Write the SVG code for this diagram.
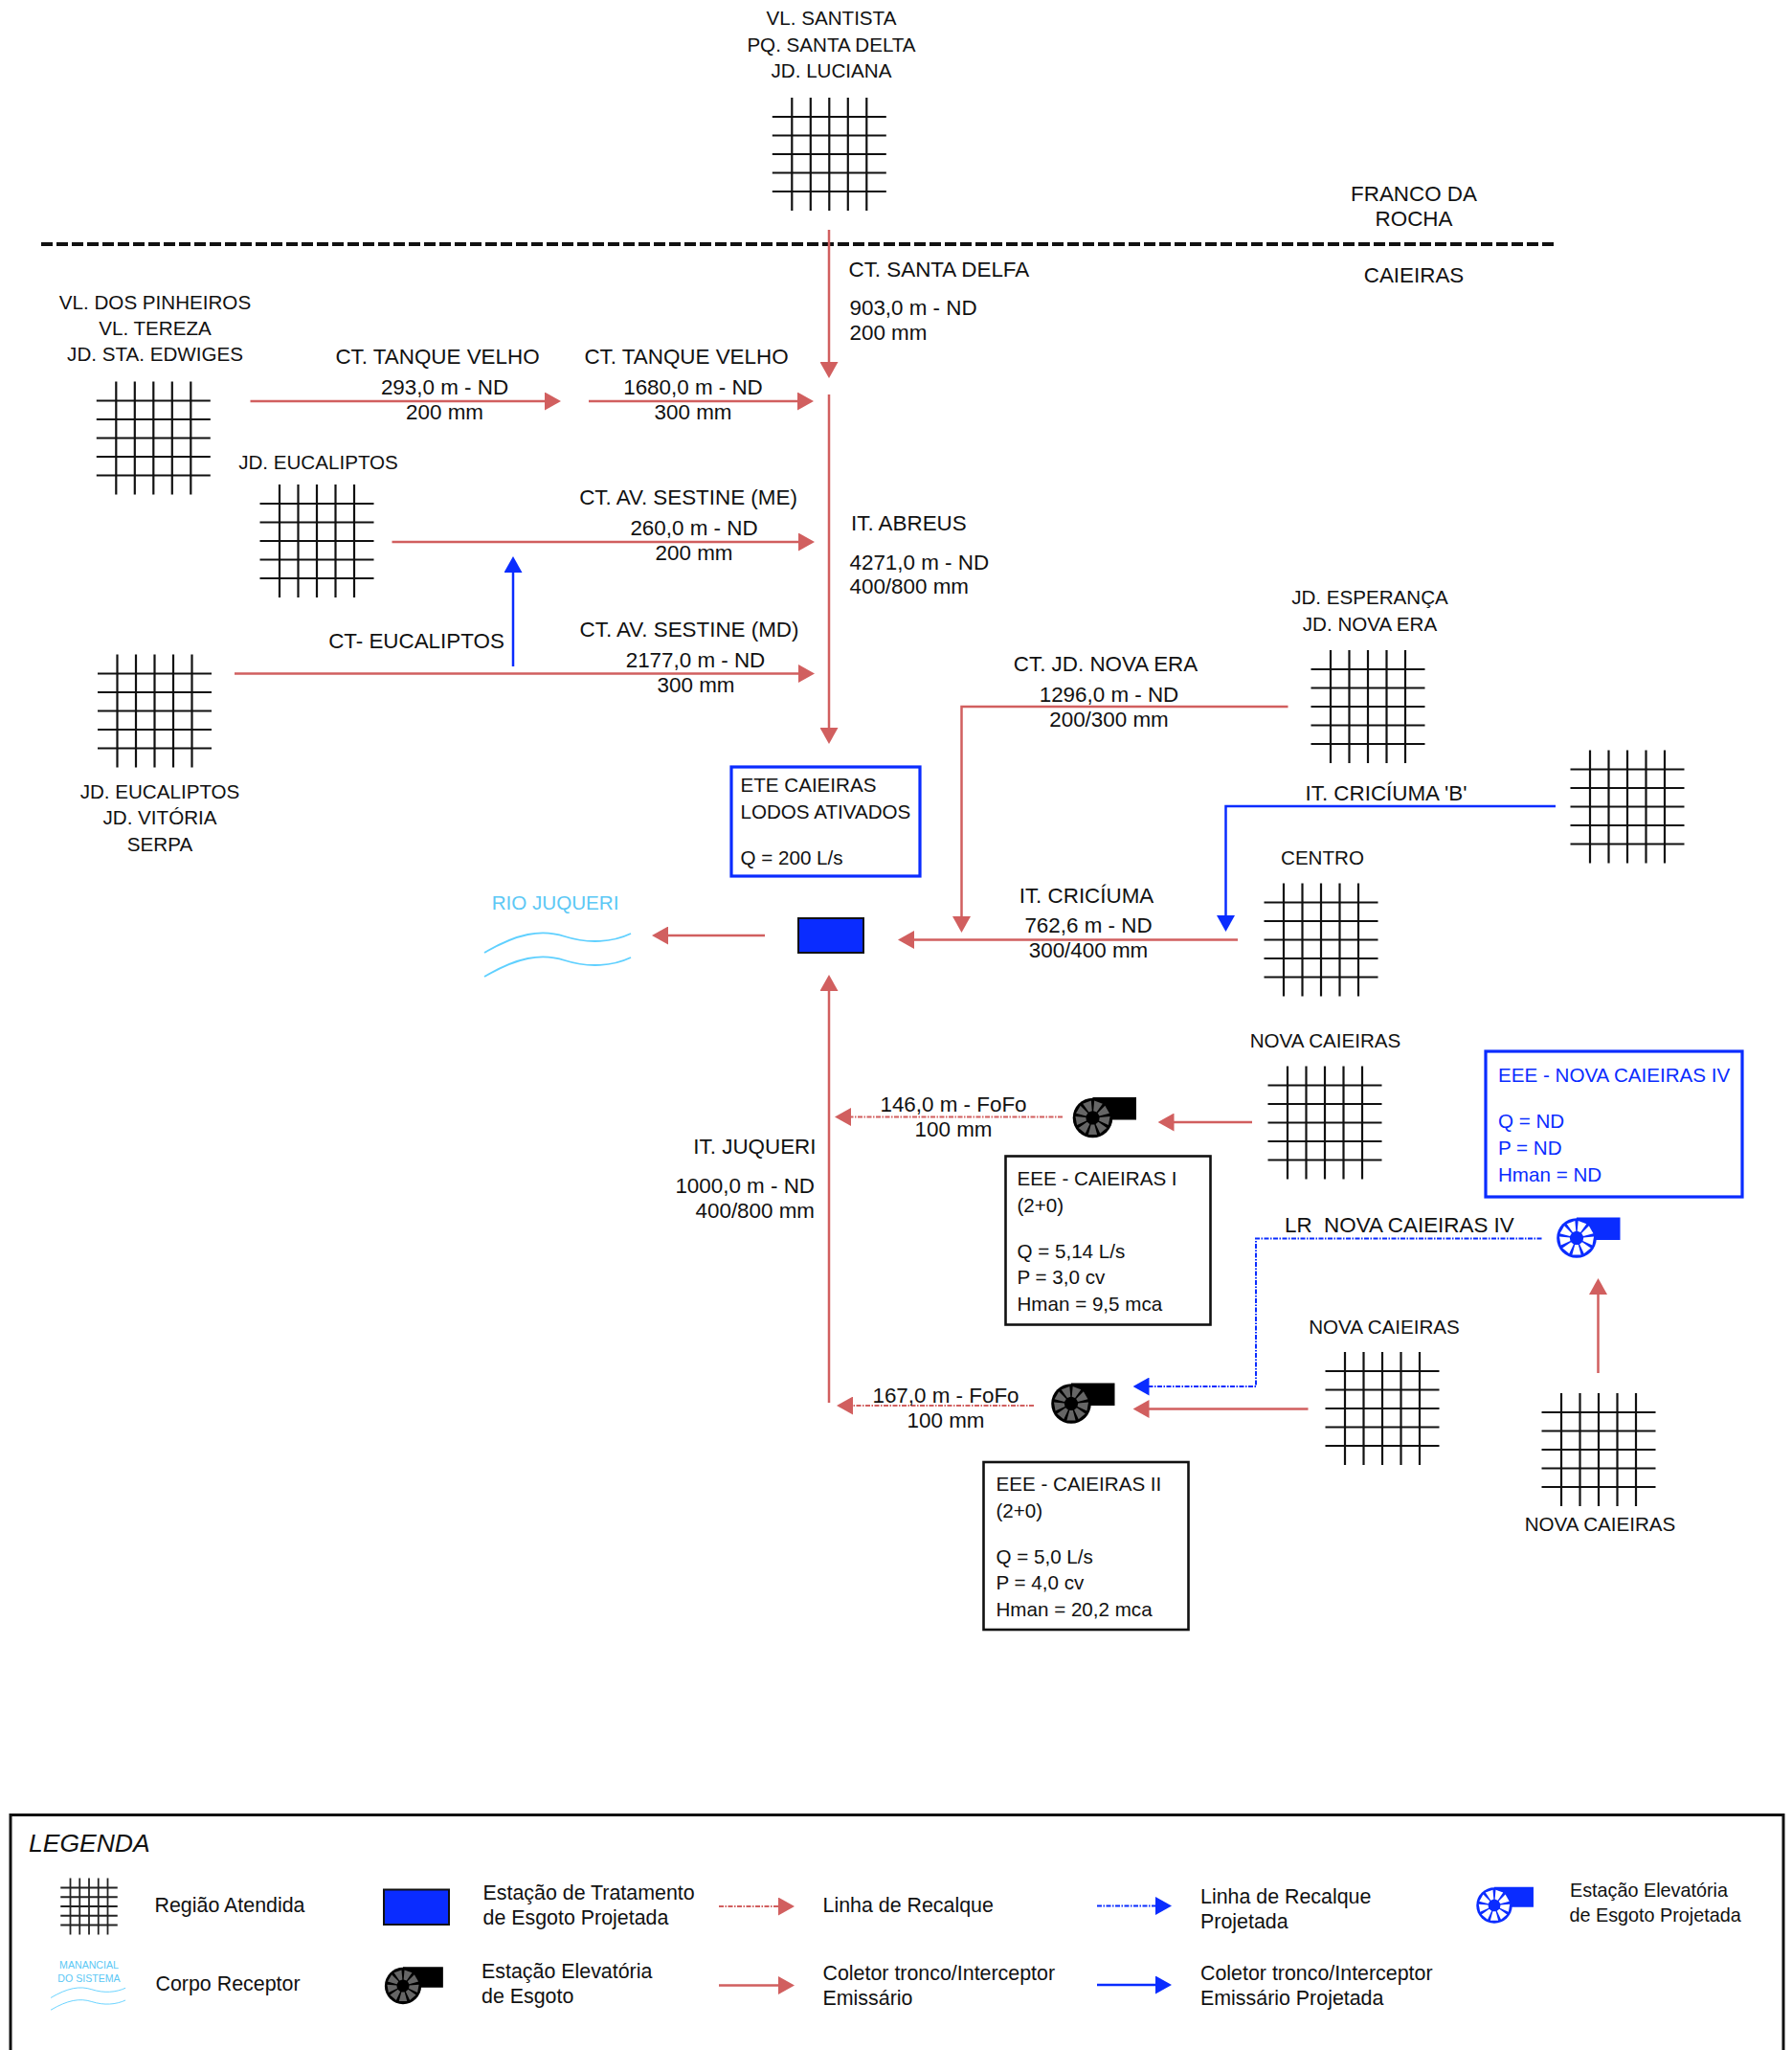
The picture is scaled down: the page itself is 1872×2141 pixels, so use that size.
<svg xmlns="http://www.w3.org/2000/svg" xmlns:xlink="http://www.w3.org/1999/xlink" width="1872" height="2141" viewBox="0 0 1872 2141">
<style>
text{font-family:"Liberation Sans",Arial,sans-serif;font-size:20.6px;fill:#111}
.m{text-anchor:middle}.e{text-anchor:end}
.c{font-size:22.4px}
.lg{font-size:21.4px}.sm{font-size:19.8px}
.bl{fill:#0a2cff}
.cy{fill:#5cc8f5}
.gs{stroke:#111;stroke-width:2.2}
.r{fill:none;stroke:#d15f5f;stroke-width:2.5}
.rd{fill:none;stroke:#d15f5f;stroke-width:1.8;stroke-dasharray:5 1.500 1.500 1.500}
.b{fill:none;stroke:#0a2cff;stroke-width:2.5}
.bd{fill:none;stroke:#0a2cff;stroke-width:2;stroke-dasharray:5 1.500 1.500 1.500}
.box{fill:#fff;stroke:#111;stroke-width:2.6}
.bbox{fill:#fff;stroke:#0a2cff;stroke-width:3.2}
.river{fill:none;stroke:#5fd0ff;stroke-width:1.8}
</style>
<defs>
<marker id="ar" markerUnits="userSpaceOnUse" viewBox="0 0 17 19" refX="1" refY="9.5" markerWidth="17" markerHeight="19" orient="auto"><path d="M0 0L17 9.5L0 19Z" fill="#d15f5f"/></marker>
<marker id="ab" markerUnits="userSpaceOnUse" viewBox="0 0 17 19" refX="1" refY="9.5" markerWidth="17" markerHeight="19" orient="auto"><path d="M0 0L17 9.5L0 19Z" fill="#0a2cff"/></marker>
<g id="gridsym">
<line x1="-39" x2="-39" y1="-59" y2="59"/><line x1="-19.5" x2="-19.5" y1="-59" y2="59"/><line x1="0" x2="0" y1="-59" y2="59"/><line x1="19.5" x2="19.5" y1="-59" y2="59"/><line x1="39" x2="39" y1="-59" y2="59"/>
<line x1="-59.5" x2="59.5" y1="-39" y2="-39"/><line x1="-59.5" x2="59.5" y1="-19.5" y2="-19.5"/><line x1="-59.5" x2="59.5" y1="0" y2="0"/><line x1="-59.5" x2="59.5" y1="19.5" y2="19.5"/><line x1="-59.5" x2="59.5" y1="39" y2="39"/>
</g>
<path id="blade" d="M-1.8 -7L1.8 -7L4.6 -17.5L-4.6 -17.5Z"/>
<g id="pump-body"><circle r="20.8"/><path d="M0 -21.5H45.5V2H15V-10H0Z"/></g>
<g id="pump-blades">
<use xlink:href="#blade" href="#blade" transform="rotate(20)"/><use xlink:href="#blade" href="#blade" transform="rotate(60)"/><use xlink:href="#blade" href="#blade" transform="rotate(100)"/><use xlink:href="#blade" href="#blade" transform="rotate(140)"/><use xlink:href="#blade" href="#blade" transform="rotate(180)"/><use xlink:href="#blade" href="#blade" transform="rotate(220)"/><use xlink:href="#blade" href="#blade" transform="rotate(260)"/><use xlink:href="#blade" href="#blade" transform="rotate(300)"/><use xlink:href="#blade" href="#blade" transform="rotate(340)"/>
</g>
</defs>
<rect width="1872" height="2141" fill="#fff"/>

<g id="divider">
<line x1="43" y1="255" x2="1624" y2="255" stroke="#111" stroke-width="4" stroke-dasharray="12 4"/>
<text class="m c" x="1477" y="210">FRANCO DA</text><text class="m c" x="1477" y="235.500">ROCHA</text>
<text class="m c" x="1477" y="295">CAIEIRAS</text>
</g>

<g id="connectors">
<path class="r" marker-end="url(#ar)" d="M866 240V379"/>
<path class="r" marker-end="url(#ar)" d="M866 412V761"/>
<path class="r" marker-end="url(#ar)" d="M261.500 419H570"/>
<path class="r" marker-end="url(#ar)" d="M615 419H834"/>
<path class="r" marker-end="url(#ar)" d="M409.500 566H835"/>
<path class="r" marker-end="url(#ar)" d="M245 703.500H835"/>
<path class="b" marker-end="url(#ab)" d="M536 696V597"/>
<path class="r" marker-end="url(#ar)" d="M1345.500 738H1004.500V958"/>
<path class="b" marker-end="url(#ab)" d="M1625 842H1280.500V957"/>
<path class="r" marker-end="url(#ar)" d="M1293 981.500H954"/>
<path class="r" marker-end="url(#ar)" d="M799 977H697"/>
<path class="r" marker-end="url(#ar)" d="M866 1465V1034"/>
<path class="rd" marker-end="url(#ar)" d="M1110 1166.500H888"/>
<path class="r" marker-end="url(#ar)" d="M1308 1172H1225.500"/>
<path class="rd" marker-end="url(#ar)" d="M1080 1468H890"/>
<path class="bd" marker-end="url(#ab)" d="M1610.500 1293.500H1312V1448H1199.500"/>
<path class="r" marker-end="url(#ar)" d="M1366.500 1471.500H1199.500"/>
<path class="r" marker-end="url(#ar)" d="M1669.500 1434V1351"/>
</g>

<g id="node-santista"><use class="gs" xlink:href="#gridsym" href="#gridsym" x="866.300" y="161"/>
<text class="m" x="868.500" y="26">VL. SANTISTA</text><text class="m" x="868.500" y="53.500">PQ. SANTA DELTA</text><text class="m" x="868.500" y="81">JD. LUCIANA</text></g>
<g id="node-pinheiros"><use class="gs" xlink:href="#gridsym" href="#gridsym" x="160.300" y="457.500"/>
<text class="m" x="162" y="322.500">VL. DOS PINHEIROS</text><text class="m" x="162" y="350">VL. TEREZA</text><text class="m" x="162" y="377">JD. STA. EDWIGES</text></g>
<g id="node-eucaliptos"><use class="gs" xlink:href="#gridsym" href="#gridsym" x="331" y="565"/>
<text class="m" x="332.500" y="490">JD. EUCALIPTOS</text></g>
<g id="node-vitoria"><use class="gs" xlink:href="#gridsym" href="#gridsym" x="161.500" y="742.500"/>
<text class="m" x="167" y="833.500">JD. EUCALIPTOS</text><text class="m" x="167" y="861">JD. VITÓRIA</text><text class="m" x="167" y="888.500">SERPA</text></g>
<g id="node-esperanca"><use class="gs" xlink:href="#gridsym" href="#gridsym" x="1429" y="738"/>
<text class="m" x="1431" y="631">JD. ESPERANÇA</text><text class="m" x="1431" y="658.500">JD. NOVA ERA</text></g>
<g id="node-cricuma-b"><use class="gs" xlink:href="#gridsym" href="#gridsym" x="1700" y="842.500"/></g>
<g id="node-centro"><use class="gs" xlink:href="#gridsym" href="#gridsym" x="1380" y="981.500"/>
<text class="m" x="1381.500" y="902.500">CENTRO</text></g>
<g id="node-nova1"><use class="gs" xlink:href="#gridsym" href="#gridsym" x="1384" y="1172.500"/>
<text class="m" x="1384.500" y="1094">NOVA CAIEIRAS</text></g>
<g id="node-nova2"><use class="gs" xlink:href="#gridsym" href="#gridsym" x="1444" y="1471"/>
<text class="m" x="1446" y="1392.500">NOVA CAIEIRAS</text></g>
<g id="node-nova3"><use class="gs" xlink:href="#gridsym" href="#gridsym" x="1670" y="1514"/>
<text class="m" x="1671.500" y="1599">NOVA CAIEIRAS</text></g>

<g id="labels">
<text class="c" x="886.500" y="288.500">CT. SANTA DELFA</text><text class="c" x="887.500" y="329">903,0 m - ND</text><text class="c" x="887.500" y="355">200 mm</text>
<text class="m c" x="457" y="379.500">CT. TANQUE VELHO</text><text class="m c" x="464.500" y="412">293,0 m - ND</text><text class="m c" x="464.500" y="437.500">200 mm</text>
<text class="m c" x="717" y="379.500">CT. TANQUE VELHO</text><text class="m c" x="724" y="412">1680,0 m - ND</text><text class="m c" x="724" y="437.500">300 mm</text>
<text class="m c" x="719" y="527">CT. AV. SESTINE (ME)</text><text class="m c" x="725" y="559">260,0 m - ND</text><text class="m c" x="725" y="584.500">200 mm</text>
<text class="m c" x="435" y="677">CT- EUCALIPTOS</text>
<text class="m c" x="720" y="665">CT. AV. SESTINE (MD)</text><text class="m c" x="726.500" y="697">2177,0 m - ND</text><text class="m c" x="727" y="723">300 mm</text>
<text class="c" x="889" y="554">IT. ABREUS</text><text class="c" x="887.500" y="594.500">4271,0 m - ND</text><text class="c" x="887.500" y="620">400/800 mm</text>
<text class="m c" x="1155" y="701">CT. JD. NOVA ERA</text><text class="m c" x="1158.500" y="733">1296,0 m - ND</text><text class="m c" x="1158.500" y="758.500">200/300 mm</text>
<text class="m c" x="1448" y="835.500">IT. CRICÍUMA 'B'</text>
<text class="m c" x="1135" y="942.500">IT. CRICÍUMA</text><text class="m c" x="1137" y="974">762,6 m - ND</text><text class="m c" x="1137" y="1000">300/400 mm</text>
<text class="e c" x="852.500" y="1205">IT. JUQUERI</text><text class="e c" x="851" y="1246">1000,0 m - ND</text><text class="e c" x="851" y="1272">400/800 mm</text>
<text class="m c" x="996" y="1161">146,0 m - FoFo</text><text class="m c" x="996" y="1187">100 mm</text>
<text class="m c" x="988" y="1465">167,0 m - FoFo</text><text class="m c" x="988" y="1490.500">100 mm</text>
<text class="c" x="1342" y="1287" xml:space="preserve" style="white-space:pre">LR  NOVA CAIEIRAS IV</text>
</g>

<g id="node-ete">
<rect class="bbox" x="764" y="801" width="197" height="114"/>
<text x="773.500" y="827">ETE CAIEIRAS</text><text x="773.500" y="854.500">LODOS ATIVADOS</text><text x="773.500" y="903">Q = 200 L/s</text>
<rect x="834" y="959" width="68" height="36" fill="#0a2cff" stroke="#111" stroke-width="2"/>
</g>
<g id="node-rio">
<path class="river" d="M506 995C540 975 565 970 590 978C615 986 640 984 659 975"/>
<path class="river" d="M506 1020C540 1000 565 995 590 1003C615 1011 640 1009 659 1000"/>
<text class="m cy" x="580" y="949.500">RIO JUQUERI</text>
</g>
<g id="node-eee1">
<use xlink:href="#pump-body" href="#pump-body" x="1141.500" y="1167.500" fill="#000"/><use xlink:href="#pump-blades" href="#pump-blades" x="1141.500" y="1167.500" fill="#666"/>
<rect class="box" x="1050.500" y="1207.500" width="214" height="176"/>
<text x="1062.500" y="1238">EEE - CAIEIRAS I</text><text x="1062.500" y="1266">(2+0)</text><text x="1062.500" y="1313.500">Q = 5,14 L/s</text><text x="1062.500" y="1341">P = 3,0 cv</text><text x="1062.500" y="1369">Hman = 9,5 mca</text>
</g>
<g id="node-eee2">
<use xlink:href="#pump-body" href="#pump-body" x="1119" y="1466" fill="#000"/><use xlink:href="#pump-blades" href="#pump-blades" x="1119" y="1466" fill="#666"/>
<rect class="box" x="1027.500" y="1527" width="214" height="175"/>
<text x="1040.500" y="1557">EEE - CAIEIRAS II</text><text x="1040.500" y="1585">(2+0)</text><text x="1040.500" y="1632.500">Q = 5,0 L/s</text><text x="1040.500" y="1660">P = 4,0 cv</text><text x="1040.500" y="1688">Hman = 20,2 mca</text>
</g>
<g id="node-eee4">
<use xlink:href="#pump-body" href="#pump-body" x="1647" y="1293" fill="#0a2cff"/><use xlink:href="#pump-blades" href="#pump-blades" x="1647" y="1293" fill="#fff"/>
<rect class="bbox" x="1552" y="1098" width="268" height="152"/>
<text class="bl" x="1565" y="1129.500">EEE - NOVA CAIEIRAS IV</text><text class="bl" x="1565" y="1177.500">Q = ND</text><text class="bl" x="1565" y="1205.500">P = ND</text><text class="bl" x="1565" y="1233.500">Hman = ND</text>
</g>

<g id="legend">
<path d="M11 2145V1895.500H1863V2145" fill="none" stroke="#111" stroke-width="3"/>
<text x="30" y="1933.500" style="font-size:26.500px;font-style:italic">LEGENDA</text>
<g transform="translate(93 1991) scale(.5)"><use xlink:href="#gridsym" href="#gridsym" stroke="#222" stroke-width="3.6"/></g>
<text class="lg" x="161.500" y="1996.500">Região Atendida</text>
<rect x="401" y="1973.500" width="68" height="36.500" fill="#0a2cff" stroke="#111" stroke-width="2"/>
<text class="lg" x="504.500" y="1983.500">Estação de Tratamento</text><text class="lg" x="504.500" y="2009.500">de Esgoto Projetada</text>
<path class="rd" marker-end="url(#ar)" d="M751 1991H814"/>
<text class="lg" x="859.500" y="1996.500">Linha de Recalque</text>
<path class="bd" marker-end="url(#ab)" d="M1146 1990.500H1208"/>
<text class="lg" x="1254" y="1987.500">Linha de Recalque</text><text class="lg" x="1254" y="2014">Projetada</text>
<g transform="translate(1561 1990) scale(.9)"><use xlink:href="#pump-body" href="#pump-body" fill="#0a2cff"/><use xlink:href="#pump-blades" href="#pump-blades" fill="#fff"/></g>
<text class="sm" x="1640" y="1981">Estação Elevatória</text><text class="sm" x="1639.500" y="2006.500">de Esgoto Projetada</text>
<text class="m cy" x="93" y="2055.500" style="font-size:10.600px">MANANCIAL</text><text class="m cy" x="93" y="2070" style="font-size:10.600px">DO SISTEMA</text>
<path class="river" transform="translate(-205 1579) scale(.51)" d="M506 995C540 975 565 970 590 978C615 986 640 984 659 975"/>
<path class="river" transform="translate(-205 1579) scale(.51)" d="M506 1020C540 1000 565 995 590 1003C615 1011 640 1009 659 1000"/>
<text class="lg" x="162.500" y="2079">Corpo Receptor</text>
<g transform="translate(421 2074) scale(.92)"><use xlink:href="#pump-body" href="#pump-body" fill="#000"/><use xlink:href="#pump-blades" href="#pump-blades" fill="#666"/></g>
<text class="lg" x="503" y="2065.500">Estação Elevatória</text><text class="lg" x="503" y="2092">de Esgoto</text>
<path class="r" marker-end="url(#ar)" d="M751 2073.500H814"/>
<text class="lg" x="859.500" y="2067.500">Coletor tronco/Interceptor</text><text class="lg" x="859.500" y="2094">Emissário</text>
<path class="b" marker-end="url(#ab)" d="M1146 2073H1208"/>
<text class="lg" x="1254" y="2067.500">Coletor tronco/Interceptor</text><text class="lg" x="1254" y="2094">Emissário Projetada</text>
</g>
</svg>
